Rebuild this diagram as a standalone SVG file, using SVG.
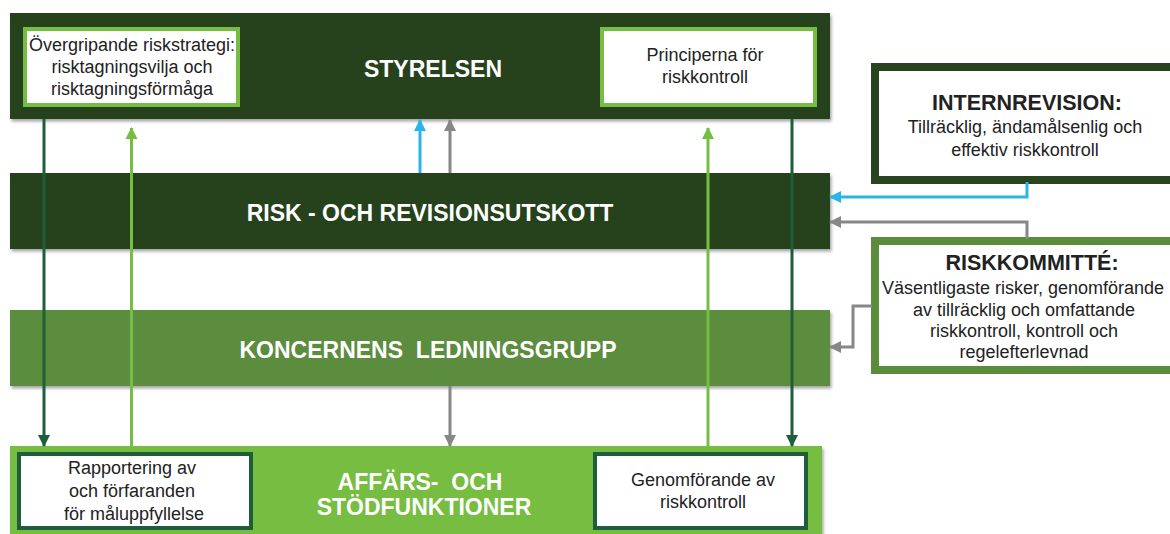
<svg xmlns="http://www.w3.org/2000/svg" width="1170" height="534" viewBox="0 0 1170 534">
<style>
.bar{filter:url(#sh)}
.dk{fill:#27431F}
.md{fill:#5B8C3C}
.lt{fill:#76BD43}
.t{font-family:"Liberation Sans",Arial,sans-serif;font-size:18px;fill:#222;text-anchor:middle}
.h{font-family:"Liberation Sans",Arial,sans-serif;font-size:23px;font-weight:bold;fill:#fff;text-anchor:middle}
.hb{font-family:"Liberation Sans",Arial,sans-serif;font-size:21.5px;font-weight:bold;fill:#222;text-anchor:middle}
.c{fill:none;stroke-width:3}
</style>
<defs>
<filter id="sh" x="-5%" y="-10%" width="110%" height="130%">
<feDropShadow dx="1.5" dy="2.5" stdDeviation="1.5" flood-color="#000" flood-opacity="0.35"/>
</filter>
<marker id="aDG" viewBox="0 0 12 12" refX="11" refY="6" markerWidth="12" markerHeight="12" markerUnits="userSpaceOnUse" orient="auto"><path d="M0,0 L12,6 L0,12 Z" fill="#1E5E3B"/></marker>
<marker id="aLG" viewBox="0 0 12 12" refX="11" refY="6" markerWidth="12" markerHeight="12" markerUnits="userSpaceOnUse" orient="auto"><path d="M0,0 L12,6 L0,12 Z" fill="#76BD43"/></marker>
<marker id="aBL" viewBox="0 0 12 12" refX="11" refY="6" markerWidth="12" markerHeight="12" markerUnits="userSpaceOnUse" orient="auto"><path d="M0,0 L12,6 L0,12 Z" fill="#29B5E8"/></marker>
<marker id="aGR" viewBox="0 0 12 12" refX="11" refY="6" markerWidth="12" markerHeight="12" markerUnits="userSpaceOnUse" orient="auto"><path d="M0,0 L12,6 L0,12 Z" fill="#878787"/></marker>
</defs>

<g id="styrelsen">
<rect class="bar dk" x="10" y="13" width="820" height="106"/>
<text class="h" x="433" y="77">STYRELSEN</text>
</g>
<g id="riskstrategi">
<rect x="25" y="29" width="213" height="76" fill="#fff" stroke="#76BD43" stroke-width="4"/>
<text class="t" x="132" y="51">Övergripande riskstrategi:</text>
<text class="t" x="132" y="73">risktagningsvilja och</text>
<text class="t" x="132" y="95">risktagningsförmåga</text>
</g>
<g id="principerna">
<rect x="602" y="29" width="213" height="76" fill="#fff" stroke="#76BD43" stroke-width="4"/>
<text class="t" x="705" y="61">Principerna för</text>
<text class="t" x="705" y="83">riskkontroll</text>
</g>
<g id="risk-revision">
<rect class="bar dk" x="10" y="173" width="820" height="76"/>
<text class="h" x="430" y="221">RISK - OCH REVISIONSUTSKOTT</text>
</g>
<g id="ledningsgrupp">
<rect class="bar md" x="10" y="310" width="820" height="76"/>
<text class="h" x="428" y="358" xml:space="preserve">KONCERNENS  LEDNINGSGRUPP</text>
</g>
<g id="affars">
<rect class="bar lt" x="10" y="446" width="812" height="100"/>
<text class="h" x="420" y="490" xml:space="preserve">AFFÄRS-  OCH</text>
<text class="h" x="424" y="515">STÖDFUNKTIONER</text>
</g>
<g id="rapportering">
<rect x="19" y="454" width="232" height="74" fill="#fff" stroke="#1E5E3B" stroke-width="4"/>
<text class="t" x="132" y="474">Rapportering av</text>
<text class="t" x="132" y="497">och förfaranden</text>
<text class="t" x="134" y="520">för måluppfyllelse</text>
</g>
<g id="genomforande">
<rect x="595" y="454" width="211" height="74" fill="#fff" stroke="#1E5E3B" stroke-width="4"/>
<text class="t" x="703" y="486">Genomförande av</text>
<text class="t" x="703" y="508">riskkontroll</text>
</g>
<g id="internrevision">
<rect x="875" y="67" width="310" height="113" fill="#fff" stroke="#27431F" stroke-width="8"/>
<text class="hb" x="1027" y="110">INTERNREVISION:</text>
<text class="t" x="1025" y="133">Tillräcklig, ändamålsenlig och</text>
<text class="t" x="1025" y="156">effektiv riskkontroll</text>
</g>
<g id="riskkommitte">
<rect x="875" y="241" width="310" height="129" fill="#fff" stroke="#5B8C3C" stroke-width="8"/>
<text class="hb" x="1032" y="270">RISKKOMMITTÉ:</text>
<text class="t" x="1023" y="294">Väsentligaste risker, genomförande</text>
<text class="t" x="1024" y="316">av tillräcklig och omfattande</text>
<text class="t" x="1024" y="337">riskkontroll, kontroll och</text>
<text class="t" x="1024" y="358">regelefterlevnad</text>
</g>

<g id="connectors">
<line class="c" x1="44" y1="119" x2="44" y2="446" stroke="#1E5E3B" marker-end="url(#aDG)"/>
<line class="c" x1="792" y1="119" x2="792" y2="446" stroke="#1E5E3B" marker-end="url(#aDG)"/>
<line class="c" x1="131.5" y1="446" x2="131.5" y2="128" stroke="#76BD43" marker-end="url(#aLG)"/>
<line class="c" x1="708" y1="446" x2="708" y2="128" stroke="#76BD43" marker-end="url(#aLG)"/>
<line class="c" x1="420" y1="173" x2="420" y2="120" stroke="#29B5E8" marker-end="url(#aBL)"/>
<line class="c" x1="450" y1="173" x2="450" y2="120" stroke="#878787" marker-end="url(#aGR)"/>
<line class="c" x1="450" y1="386" x2="450" y2="446" stroke="#878787" marker-end="url(#aGR)"/>
<polyline class="c" points="1027,182 1027,197 830,197" stroke="#29B5E8" marker-end="url(#aBL)"/>
<polyline class="c" points="1027,239 1027,222 830,222" stroke="#878787" marker-end="url(#aGR)"/>
<polyline class="c" points="872,306 853,306 853,347 830,347" stroke="#878787" marker-end="url(#aGR)"/>
</g>
</svg>
